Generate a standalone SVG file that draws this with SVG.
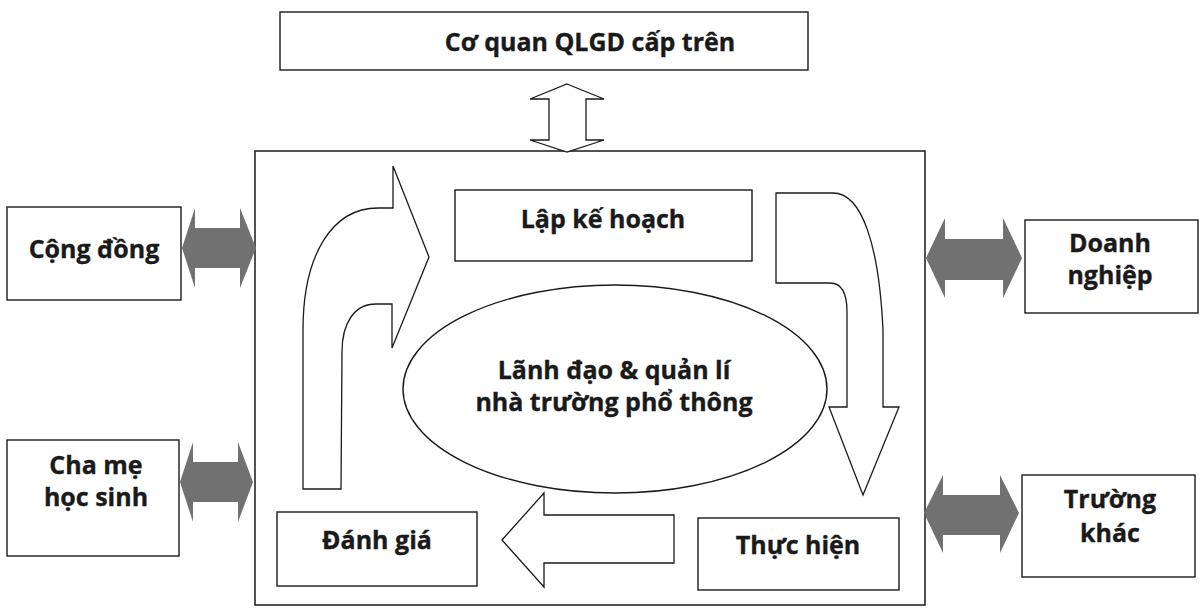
<svg xmlns="http://www.w3.org/2000/svg" width="1203" height="609" viewBox="0 0 1203 609">
<defs>
<style>
.box{fill:#fff;stroke:#1a1a1a;stroke-width:1.4}
.frame{fill:none;stroke:#1a1a1a;stroke-width:1.5}
.hollow{fill:#fff;stroke:#1a1a1a;stroke-width:1.3;stroke-linejoin:miter}
.grey{fill:#717171;stroke:none}
.t{font-family:"Open Sans","Noto Sans","DejaVu Sans",sans-serif;font-weight:700;font-size:25px;fill:#1a1a1a;stroke:#1a1a1a;stroke-width:0.35;text-anchor:middle}
</style>
</defs>
<rect width="1203" height="609" fill="#fff"/>

<g id="school-frame">
<rect class="frame" x="255" y="151" width="670" height="454"/>
</g>

<g id="co-quan">
<rect class="box" x="280" y="12" width="528" height="58"/>
<text class="t" x="590" y="51">Cơ quan QLGD cấp trên</text>
</g>

<g id="cong-dong">
<rect class="box" x="7" y="207" width="174" height="93"/>
<text class="t" x="94" y="258">Cộng đồng</text>
</g>

<g id="cha-me">
<rect class="box" x="7" y="440" width="172" height="116"/>
<text class="t" x="96" y="474">Cha mẹ</text>
<text class="t" x="96" y="506">học sinh</text>
</g>

<g id="doanh-nghiep">
<rect class="box" x="1025" y="220" width="173" height="93"/>
<text class="t" x="1110" y="252">Doanh</text>
<text class="t" x="1110" y="284">nghiệp</text>
</g>

<g id="truong-khac">
<rect class="box" x="1022" y="475" width="173" height="102"/>
<text class="t" x="1110" y="508">Trường</text>
<text class="t" x="1110" y="542">khác</text>
</g>

<g id="lap-ke-hoach">
<rect class="box" x="455" y="190" width="297" height="71"/>
<text class="t" x="603" y="228">Lập kế hoạch</text>
</g>

<g id="lanh-dao">
<ellipse class="box" cx="615" cy="389" rx="212" ry="104"/>
<text class="t" x="614" y="379">Lãnh đạo &amp; quản lí</text>
<text class="t" x="614" y="411">nhà trường phổ thông</text>
</g>

<g id="thuc-hien">
<rect class="box" x="698" y="518" width="201" height="72"/>
<text class="t" x="798" y="554">Thực hiện</text>
</g>

<g id="danh-gia">
<rect class="box" x="277" y="512" width="200" height="74"/>
<text class="t" x="377" y="549">Đánh giá</text>
</g>

<g id="connectors">
<polygon class="hollow" points="567,84 604,99 586,99 586,140 604,140 567,152 530,140 549,140 549,99 530,99"/>
<polygon class="grey" points="182,248 195,208 195,228 240,228 240,208 256,248 240,288 240,268 195,268 195,288"/>
<polygon class="grey" points="180,482 193,442 193,462 238,462 238,442 253,482 238,522 238,502 193,502 193,522"/>
<polygon class="grey" points="926,258 945,218 945,239 1003,239 1003,218 1022,258 1003,298 1003,280 945,280 945,298"/>
<polygon class="grey" points="924,513 943,475 943,495 1000,495 1000,475 1019,513 1000,553 1000,535 943,535 943,553"/>
<path class="hollow" d="M303,489 L303,330 C303,255 332,208 378,208 L393,208 L393,166 L429,257 L392,348 L392,304 L376,304 C355,304 342,322 342,352 L341,489 Z"/>
<path class="hollow" d="M776,193 L833,193 C862,193 879,245 883,330 L883,407 L899,407 L863,495 L829,407 L847,407 L847,312 C847,293 842,283 830,283 L776,283 Z"/>
<polygon class="hollow" points="502,540 544,493 544,515 674,515 674,563 544,563 544,587"/>
</g>
</svg>
